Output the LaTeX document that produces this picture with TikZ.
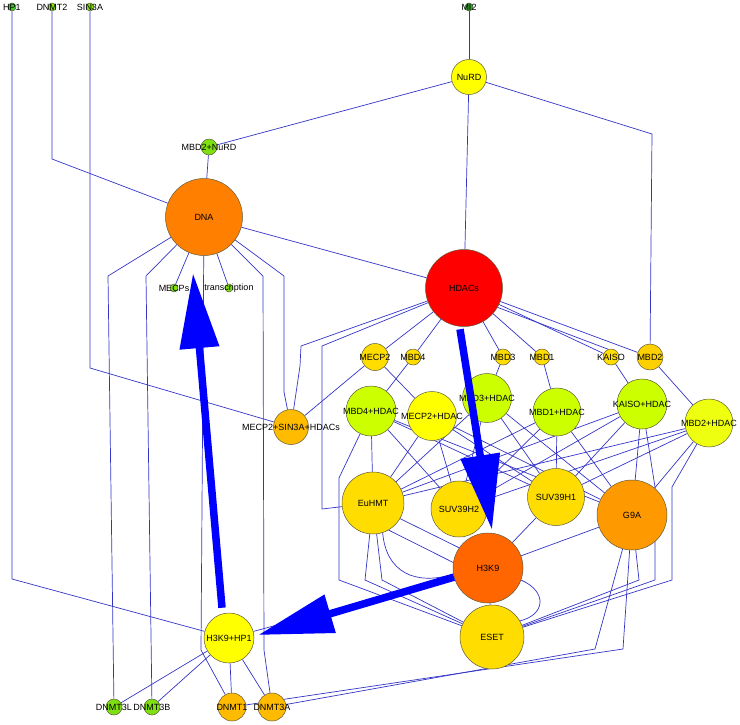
\documentclass[tikz,border=0pt]{standalone}
\usepackage{fontspec}
\setmainfont{Liberation Sans}
\usetikzlibrary{arrows.meta,backgrounds}
\definecolor{epiEdge}{HTML}{3434C8}
\definecolor{epiArrow}{HTML}{0000FF}
\definecolor{epiRim}{HTML}{5F5A3C}
\definecolor{epiLeaf}{HTML}{3FCC2A}
\definecolor{epiMoss}{HTML}{2DA82D}
\definecolor{epiLime}{HTML}{7FE011}
\definecolor{epiChart}{HTML}{CCFF00}
\definecolor{epiYellow}{HTML}{FFFF00}
\definecolor{epiLemon}{HTML}{EEFF10}
\definecolor{epiGold}{HTML}{FFDD00}
\definecolor{epiAmber}{HTML}{FFD000}
\definecolor{epiTangerine}{HTML}{FFBB00}
\definecolor{epiOrangeLt}{HTML}{FF9900}
\definecolor{epiOrange}{HTML}{FF8000}
\definecolor{epiBurnt}{HTML}{FF6600}
\definecolor{epiRed}{HTML}{FF0000}
\tikzset{
  gnode/.style args={#1/#2}{
    circle,
    draw=epiRim,
    fill=#1,
    line width=0.5pt,
    minimum size=#2pt,
    inner sep=0pt
  },
  every label/.style={
    font=\fontsize{9pt}{10pt}\selectfont,
    inner sep=0pt,
    text=black
  },
  link/.style={
    draw=epiEdge,
    line width=0.7pt
  },
  bigarrow/.style={
    -{Triangle[length=75pt,width=38pt]},
    line width=7.5pt,
    draw=epiArrow
  }
}

\begin{document}
\begin{tikzpicture}[x=1pt,y=-1pt]
\useasboundingbox (0,0) rectangle (740,724);

\node[gnode=epiLeaf/8, label=center:HP1] (hp1) at (12,7) {};
\node[gnode=epiLime/8, label=center:DNMT2] (dnmt2) at (52,7) {};
\node[gnode=epiLime/8, label=center:SIN3A] (sin3a) at (90,7) {};
\node[gnode=epiMoss/8, label=center:MI2] (mi2) at (469,7) {};
\node[gnode=epiYellow/35, label=center:NuRD] (nurd) at (469,77) {};
\node[gnode=epiLime/16, label=center:MBD2+NuRD] (mbdnurd) at (209,147) {};
\node[gnode=epiOrange/77, label=center:DNA] (dna) at (204,217) {};
\node[gnode=epiLime/8, label=center:MECPs] (mecps) at (174,288) {};
\node[gnode=epiLime/8, label=center:transcription] (transcr) at (229,288) {};
\node[gnode=epiRed/77, label=center:HDACs] (hdacs) at (464,288) {};

\node[gnode=epiGold/27, label=center:MECP2] (mecp2) at (375,357) {};
\node[gnode=epiGold/16, label=center:MBD4] (mbd4) at (413,357) {};
\node[gnode=epiGold/16, label=center:MBD3] (mbd3) at (503,357) {};
\node[gnode=epiGold/16, label=center:MBD1] (mbd1) at (542,357) {};
\node[gnode=epiGold/16, label=center:KAISO] (kaiso) at (611,357) {};
\node[gnode=epiAmber/26, label=center:MBD2] (mbd2) at (650,357) {};

\node[gnode=epiTangerine/35, label=center:MECP2+SIN3A+HDACs] (msh) at (291,427) {};
\node[gnode=epiChart/50, label=center:MBD4+HDAC] (mbd4h) at (371,411) {};
\node[gnode=epiYellow/49, label=center:MECP2+HDAC] (mecp2h) at (432,416) {};
\node[gnode=epiChart/49, label=center:MBD3+HDAC] (mbd3h) at (487,398) {};
\node[gnode=epiChart/48, label=center:MBD1+HDAC] (mbd1h) at (557,412) {};
\node[gnode=epiChart/50, label=center:KAISO+HDAC] (kaisoh) at (642,404) {};
\node[gnode=epiLemon/48, label=center:MBD2+HDAC] (mbd2h) at (709,423) {};

\node[gnode=epiGold/62, label=center:EuHMT] (euhmt) at (373,503) {};
\node[gnode=epiGold/56, label=center:SUV39H2] (suvh2) at (459,509) {};
\node[gnode=epiGold/57, label=center:SUV39H1] (suvh1) at (556,497) {};
\node[gnode=epiOrangeLt/70, label=center:G9A] (g9a) at (632,515) {};
\node[gnode=epiBurnt/70, label=center:H3K9] (h3k9) at (488,568) {};
\node[gnode=epiGold/64, label=center:ESET] (eset) at (492,637) {};
\node[gnode=epiYellow/50, label=center:H3K9+HP1] (hphp) at (229,638) {};

\node[gnode=epiLime/16, label=center:DNMT3L] (dnmt3l) at (114,707) {};
\node[gnode=epiLime/16, label=center:DNMT3B] (dnmt3b) at (152,707) {};
\node[gnode=epiTangerine/28, label=center:DNMT1] (dnmt1) at (232,707) {};
\node[gnode=epiTangerine/28, label=center:DNMT3A] (dnmt3a) at (272,707) {};

\begin{scope}[on background layer]
% top of the network
\draw[link] (hp1) -- (12,579) -- (hphp);
\draw[link] (dnmt2) -- (52,159) -- (dna);
\draw[link] (sin3a) -- (90,368) -- (msh);
\draw[link] (mi2) -- (nurd);
\draw[link] (nurd) -- (mbdnurd);
\draw[link] (nurd) -- (hdacs);
\draw[link] (nurd) -- (652,134) -- (mbd2);
\draw[link] (mbdnurd) -- (dna);
\draw[link] (dna) -- (mecps);
\draw[link] (dna) -- (transcr);
\draw[link] (dna) -- (hdacs);
\draw[link] (dna) -- (108,276) -- (dnmt3l);
\draw[link] (dna) -- (146,276) -- (dnmt3b);
\draw[link] (dna) -- (201,650) -- (dnmt1);
\draw[link] (dna) -- (263,276) -- (264,650) -- (dnmt3a);
\draw[link] (dna) -- (284,276) -- (284,392) -- (msh);

% HDACs and the binding proteins
\draw[link] (hdacs) -- (301,346) -- (300,366) -- (msh);
\draw[link] (hdacs) -- (322,346) -- (322,509) -- (euhmt);
\draw[link] (hdacs) -- (mecp2);
\draw[link] (hdacs) -- (mbd4);
\draw[link] (hdacs) -- (mbd3);
\draw[link] (hdacs) -- (mbd1);
\draw[link] (hdacs) -- (kaiso);
\draw[link] (hdacs.-30) -- (kaiso.110);
\draw[link] (hdacs) -- (mbd2);
\draw[link] (mecp2) -- (msh);
\draw[link] (mecp2) -- (mecp2h);
\draw[link] (mbd4) -- (mbd4h);
\draw[link] (mbd3) -- (mbd3h);
\draw[link] (mbd1) -- (mbd1h);
\draw[link] (kaiso) -- (kaisoh);
\draw[link] (mbd2) -- (mbd2h);

% complexes to methyltransferases
\draw[link] (mbd4h) -- (euhmt);
\draw[link] (mbd4h) -- (suvh2);
\draw[link] (mbd4h) -- (suvh1);
\draw[link] (mbd4h) -- (g9a);
\draw[link] (mecp2h) -- (euhmt);
\draw[link] (mecp2h) -- (suvh2);
\draw[link] (mecp2h) -- (suvh1);
\draw[link] (mecp2h) -- (g9a);
\draw[link] (mbd3h) -- (euhmt);
\draw[link] (mbd3h) -- (suvh2);
\draw[link] (mbd3h) -- (suvh1);
\draw[link] (mbd3h) -- (g9a);
\draw[link] (mbd1h) -- (euhmt);
\draw[link] (mbd1h) -- (suvh2);
\draw[link] (mbd1h) -- (suvh1);
\draw[link] (mbd1h) -- (g9a);
\draw[link] (kaisoh) -- (euhmt);
\draw[link] (kaisoh) -- (suvh2);
\draw[link] (kaisoh) -- (suvh1);
\draw[link] (kaisoh) -- (g9a);
\draw[link] (mbd2h) -- (euhmt);
\draw[link] (mbd2h) -- (suvh2);
\draw[link] (mbd2h) -- (suvh1);
\draw[link] (mbd2h) -- (g9a);

% ESET
\draw[link] (mbd4h) -- (339,478) -- (339,580) -- (eset);
\draw[link] (euhmt) -- (365,580) -- (eset);
\draw[link] (euhmt) -- (382,580) -- (eset);
\draw[link] (g9a) -- (639,580) -- (eset);
\draw[link] (kaisoh) -- (655,487) -- (655,580) -- (eset);
\draw[link] (mbd2h) -- (672,487) -- (672,580) -- (eset);

% H3K9
\draw[link] (euhmt.-60) -- (h3k9.171);
\draw[link] (euhmt.-30) -- (h3k9.145);
\draw[link] (euhmt.-72) .. controls (386,572) and (415,586) .. (h3k9.190);
\draw[link] (h3k9) -- (suvh1);
\draw[link] (h3k9) -- (g9a);
\draw[link] (h3k9) -- (eset);
\draw[link] (h3k9.-20) .. controls (548,592) and (545,615) .. (eset.30);
\draw[link] (hphp) -- (h3k9);

% DNMTs
\draw[link] (hphp) -- (dnmt3l);
\draw[link] (hphp) -- (dnmt3b);
\draw[link] (hphp) -- (dnmt1);
\draw[link] (hphp) -- (dnmt3a);
\draw[link] (g9a) -- (595,649) -- (dnmt3a);
\draw[link] (g9a) -- (623,649) -- (dnmt1);
\end{scope}

\draw[bigarrow] ([xshift=-4pt,yshift=-2.5pt]hdacs.south) -- ([xshift=4pt,yshift=3pt]h3k9.north);
\draw[bigarrow] (h3k9.195) -- ([xshift=4pt,yshift=3pt]hphp.east);
\draw[bigarrow] ([xshift=-7pt,yshift=5pt]hphp.north) -- ([xshift=-11pt,yshift=-17.5pt]dna.south);

\end{tikzpicture}
\end{document}
